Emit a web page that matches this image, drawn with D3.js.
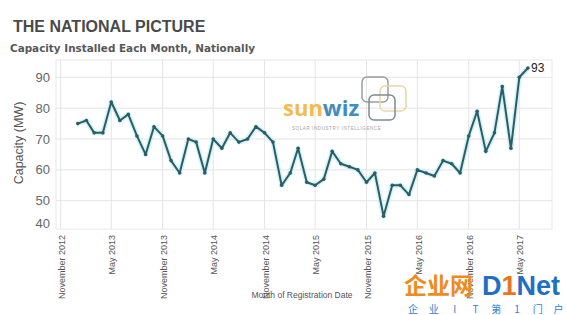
<!DOCTYPE html>
<html>
<head>
<meta charset="utf-8">
<script src="https://cdn.jsdelivr.net/npm/d3@7"></script>
<style>
  body { margin: 0; background: #fff; }
  svg { display: block; font-family: "Liberation Sans", Arial, sans-serif; }
</style>
</head>
<body>
<svg id="mainFrame"></svg>
<script>
const width = 567;
const height = 315;

// monthly capacity (MW), Jan 2013 .. Jun 2017
const firstMonth = "2013-01";
const capacity = [
    75, 76, 72, 72, 82, 76, 78, 71, 65, 74, 71, 63,
    59, 70, 69, 59, 70, 67, 72, 69, 70, 74, 72, 69,
    55, 59, 67, 56, 55, 57, 66, 62, 61, 60, 56, 59,
    45, 55, 55, 52, 60, 59, 58, 63, 62, 59, 71, 79,
    66, 72, 87, 67, 90, 93
];
const tickDates = ["2012-11", "2013-05", "2013-11", "2014-05", "2014-11",
    "2015-05", "2015-11", "2016-05", "2016-11", "2017-05"];
const tickLabels = ["November 2012", "May 2013", "November 2013", "May 2014", "November 2014",
    "May 2015", "November 2015", "May 2016", "November 2016", "May 2017"];
const yTicks = [40, 50, 60, 70, 80, 90];

const parseMonth = d3.timeParse("%Y-%m");
const start = parseMonth(firstMonth);
const data = capacity.map((v, i) => ({ date: d3.timeMonth.offset(start, i), value: v }));

const plot = { left: 56, right: 552, top: 60, bottom: 229 };

const x = d3.scaleTime()
    .domain([parseMonth("2012-11"), parseMonth("2017-05")])
    .range([60.7, 519.3]);

const y = d3.scaleLinear()
    .domain([40, 90])
    .range([231.6, 77.3]);

const svg = d3.select("#mainFrame")
    .attr("width", width)
    .attr("height", height);

svg.append("rect").attr("width", width).attr("height", height).attr("fill", "#fff");

// titles
svg.append("text")
    .attr("x", 13).attr("y", 32)
    .attr("font-size", 16).attr("font-weight", "bold")
    .attr("fill", "#4a4a4a")
    .text("THE NATIONAL PICTURE");

svg.append("text")
    .attr("x", 10).attr("y", 52)
    .attr("font-family", "DejaVu Sans")
    .attr("font-size", 11).attr("font-weight", "bold")
    .attr("fill", "#585858")
    .attr("textLength", 245).attr("lengthAdjust", "spacingAndGlyphs")
    .text("Capacity Installed Each Month, Nationally");

// grid
const grid = svg.append("g").attr("stroke", "#e4e4e4").attr("stroke-width", 1);
grid.selectAll(".hg")
    .data(yTicks.filter(v => y(v) > plot.top && y(v) < plot.bottom))
    .join("line")
    .attr("x1", plot.left).attr("x2", plot.right)
    .attr("y1", d => y(d)).attr("y2", d => y(d));
grid.selectAll(".vg")
    .data(tickDates)
    .join("line")
    .attr("x1", d => x(parseMonth(d))).attr("x2", d => x(parseMonth(d)))
    .attr("y1", plot.top).attr("y2", plot.bottom);

svg.append("rect")
    .attr("x", plot.left).attr("y", plot.top)
    .attr("width", plot.right - plot.left).attr("height", plot.bottom - plot.top)
    .attr("fill", "none").attr("stroke", "#e8e8e8");

// y axis labels
svg.append("g")
    .attr("font-size", 13).attr("fill", "#666").attr("text-anchor", "end")
    .selectAll("text")
    .data(yTicks)
    .join("text")
    .attr("x", 50)
    .attr("y", d => Math.min(y(d), 223))
    .attr("dy", "0.35em")
    .text(d => d);

svg.append("text")
    .attr("transform", "translate(23,143) rotate(-90)")
    .attr("text-anchor", "middle")
    .attr("font-size", 12.5).attr("fill", "#555")
    .text("Capacity (MW)");

// x axis labels
svg.append("g")
    .attr("font-size", 9).attr("fill", "#555").attr("text-anchor", "end")
    .selectAll("text")
    .data(tickDates)
    .join("text")
    .attr("transform", d => `translate(${x(parseMonth(d)) + 1},235) rotate(-90)`)
    .attr("dy", "0.35em")
    .text((d, i) => tickLabels[i]);

svg.append("text")
    .attr("x", 302).attr("y", 298)
    .attr("text-anchor", "middle")
    .attr("font-size", 8.5).attr("fill", "#555")
    .text("Month of Registration Date");

// sunwiz logo
const logo = svg.append("g").attr("opacity", 0.9);
logo.append("text")
    .attr("x", 283).attr("y", 116)
    .attr("font-family", "Open Sans").attr("font-weight", "bold").attr("font-size", 22)
    .call(t => {
        t.append("tspan").attr("fill", "#f1b53e").text("sun");
        t.append("tspan").attr("fill", "#2f80b9").text("wiz");
    });
logo.append("text")
    .attr("x", 292).attr("y", 130)
    .attr("font-size", 4.5).attr("fill", "#9a9a9a").attr("letter-spacing", 0.6)
    .text("SOLAR INDUSTRY INTELLIGENCE");
const squares = [[362, 77, "#8d9598"], [380, 86, "#e8d49a"], [369, 95, "#6f8088"]];
logo.selectAll(".sq")
    .data(squares)
    .join("rect")
    .attr("x", d => d[0]).attr("y", d => d[1])
    .attr("width", 26).attr("height", 25).attr("rx", 5)
    .attr("fill", "none").attr("stroke", d => d[2]).attr("stroke-width", 1.5);

// line
const line = d3.line().x(d => x(d.date)).y(d => y(d.value));

svg.append("path")
    .datum(data)
    .attr("fill", "none")
    .attr("stroke", "#bfeef5").attr("stroke-width", 5).attr("stroke-opacity", 0.7)
    .attr("stroke-linejoin", "round")
    .attr("d", line);

svg.append("path")
    .datum(data)
    .attr("fill", "none")
    .attr("stroke", "#2c5c64").attr("stroke-width", 2)
    .attr("stroke-linejoin", "round")
    .attr("d", line);

svg.append("g")
    .attr("fill", "#2c5c64")
    .selectAll("circle")
    .data(data)
    .join("circle")
    .attr("cx", d => x(d.date)).attr("cy", d => y(d.value))
    .attr("r", 1.8);

const last = data[data.length - 1];
svg.append("text")
    .attr("x", x(last.date) + 3).attr("y", y(last.value))
    .attr("dy", "0.35em")
    .attr("font-size", 12).attr("fill", "#222")
    .text(last.value);

// site watermark
const wm = svg.append("g");
wm.append("text")
    .attr("x", 404).attr("y", 294)
    .attr("font-family", "Noto Sans CJK SC").attr("font-weight", "bold").attr("font-size", 23)
    .attr("fill", "#f08a1e")
    .text("企业网");
wm.append("text")
    .attr("x", 482).attr("y", 295)
    .attr("font-weight", "bold").attr("font-size", 27)
    .call(t => {
        t.append("tspan").attr("fill", "#1f6fc4").text("D");
        t.append("tspan").attr("fill", "#ea7420").text("1");
        t.append("tspan").attr("fill", "#1f6fc4").text("Net");
    });
const slogan = ["企", "业", "I", "T", "第", "1", "门", "户"];
wm.selectAll(".sl")
    .data(slogan)
    .join("text")
    .attr("x", (d, i) => 413 + i * 20.8)
    .attr("y", 313)
    .attr("text-anchor", "middle")
    .attr("font-family", "Noto Sans CJK SC").attr("font-size", 10)
    .attr("fill", "#2f7fd4")
    .text(d => d);
</script>
</body>
</html>
